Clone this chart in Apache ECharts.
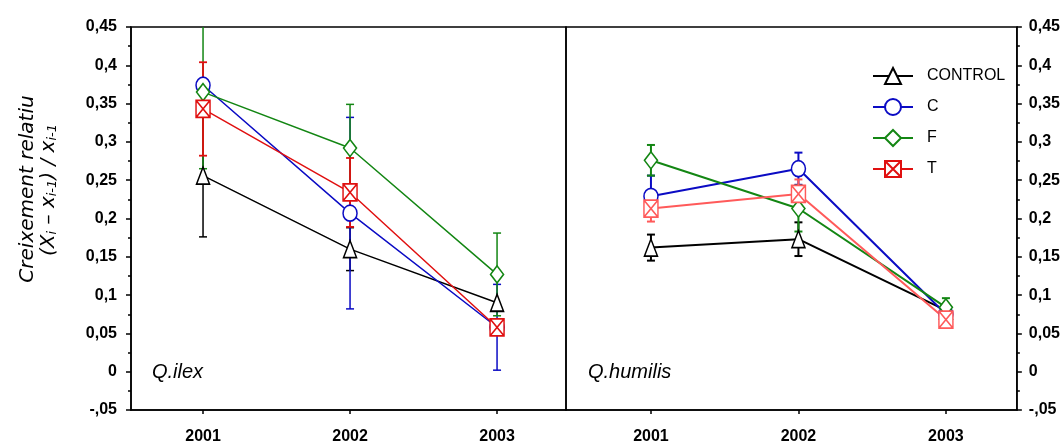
<!DOCTYPE html>
<html>
<head>
<meta charset="utf-8">
<title>Creixement relatiu</title>
<script src="https://cdn.jsdelivr.net/npm/echarts@6/dist/echarts.min.js"></script>
<style>
  html, body { margin: 0; padding: 0; background: #fff; }
  #chart { width: 1063px; height: 445px; }
</style>
</head>
<body>
<div id="chart"></div>
<script>
// Years sampled in each panel
const years = [2001, 2002, 2003];

// Q. ilex — mean relative growth and error half-width per treatment
const ilexControl = [0.256, 0.160, 0.090];
const ilexControlErr = [0.080, 0.028, 0.0];
const ilexC = [0.374, 0.207, 0.058];
const ilexCErr = [0.0, 0.125, 0.056];
const ilexF = [0.365, 0.292, 0.127];
const ilexFErr = [0.100, 0.057, 0.054];
const ilexT = [0.343, 0.234, 0.058];
const ilexTErr = [0.061, 0.045, 0.010];

// Q. humilis — mean relative growth and error half-width per treatment
const humControl = [0.162, 0.173, 0.080];
const humControlErr = [0.017, 0.022, 0.0];
const humC = [0.229, 0.265, 0.075];
const humCErr = [0.027, 0.021, 0.0];
const humF = [0.276, 0.213, 0.084];
const humFErr = [0.020, 0.030, 0.012];
const humT = [0.213, 0.232, 0.068];
const humTErr = [0.017, 0.019, 0.0];

const treatments = ['CONTROL', 'C', 'F', 'T'];

const COL = { CONTROL: '#000000', C: '#0b0bc4', F: '#138613', T: '#e01010', T2: '#ff5a5a' };
const SQUARE_X = 'path://M0,0H12V14H0Z M0,0L12,14 M12,0L0,14';
const SYMBOLS = {
  CONTROL: { symbol: 'triangle', size: [13, 17] },
  C: { symbol: 'circle', size: [14, 16] },
  F: { symbol: 'diamond', size: [13, 17] },
  T: { symbol: SQUARE_X, size: [14, 17] }
};

function fmtTick(v) {
  const r = Math.round(v * 100) / 100;
  if (r === 0) return '0';
  const s = String(Math.abs(r)).replace('.', ',');
  return r < 0 ? '-' + s.replace(/^0/, '') : s;
}

function pairs(vals) { return years.map((y, i) => [y, vals[i]]); }

function lineSeries(name, idx, vals, color, width) {
  const sym = SYMBOLS[name];
  return {
    type: 'line', name: name,
    xAxisIndex: idx, yAxisIndex: idx,
    data: pairs(vals),
    symbol: sym.symbol, symbolSize: sym.size,
    showAllSymbol: true,
    lineStyle: { color: color, width: width },
    itemStyle: { color: '#ffffff', borderColor: color, borderWidth: 1.6 },
    emphasis: { disabled: true },
    z: 3, silent: true, animation: false
  };
}

function errSeries(name, idx, vals, errs, color, width) {
  return {
    type: 'custom', name: name + ' err',
    xAxisIndex: idx, yAxisIndex: idx,
    data: years.map((y, i) => [y, vals[i], errs[i]]),
    encode: { x: 0, y: 1 },
    z: 2, silent: true, animation: false,
    renderItem: function (params, api) {
      const x = api.value(0), v = api.value(1), e = api.value(2);
      if (!e) return;
      const cs = params.coordSys;
      const top = api.coord([x, v + e]);
      const bot = api.coord([x, v - e]);
      const yMin = cs.y, yMax = cs.y + cs.height;
      const t = Math.max(top[1], yMin), b = Math.min(bot[1], yMax);
      const st = { stroke: color, lineWidth: width };
      const half = 4;
      const kids = [{ type: 'line', shape: { x1: top[0], y1: t, x2: top[0], y2: b }, style: st }];
      if (top[1] >= yMin) kids.push({ type: 'line', shape: { x1: top[0] - half, y1: top[1], x2: top[0] + half, y2: top[1] }, style: st });
      if (bot[1] <= yMax) kids.push({ type: 'line', shape: { x1: bot[0] - half, y1: bot[1], x2: bot[0] + half, y2: bot[1] }, style: st });
      return { type: 'group', children: kids };
    }
  };
}

const axisLineStyle = { color: '#000', width: 1.5 };
const tickFont = { fontFamily: 'Liberation Sans, Arial, sans-serif', fontWeight: 'bold', fontSize: 16, color: '#000' };

function xAxis(idx, min, max) {
  return {
    type: 'value', gridIndex: idx, min: min, max: max,
    axisLine: { show: true, onZero: false, lineStyle: axisLineStyle },
    axisTick: { show: true, customValues: years, length: 4, lineStyle: { color: '#000', width: 1.5 } },
    axisLabel: Object.assign({ customValues: years, formatter: v => String(v), margin: 19 }, tickFont),
    splitLine: { show: false }
  };
}

function yAxis(idx, pos, margin) {
  return {
    type: 'value', gridIndex: idx, position: pos,
    min: -0.05, max: 0.45, interval: 0.05,
    axisLine: { show: true, onZero: false, lineStyle: axisLineStyle },
    axisTick: { show: true, length: 5, lineStyle: { color: '#000', width: 1.5 } },
    minorTick: { show: true, splitNumber: 2, length: 3, lineStyle: { color: '#000', width: 1.5 } },
    axisLabel: Object.assign({ formatter: fmtTick, margin: margin }, tickFont),
    splitLine: { show: false },
    minorSplitLine: { show: false }
  };
}

const series = [
  errSeries('CONTROL', 0, ilexControl, ilexControlErr, COL.CONTROL, 1.5),
  errSeries('C', 0, ilexC, ilexCErr, COL.C, 1.5),
  errSeries('F', 0, ilexF, ilexFErr, COL.F, 1.5),
  errSeries('T', 0, ilexT, ilexTErr, COL.T, 1.8),
  errSeries('CONTROL', 1, humControl, humControlErr, COL.CONTROL, 2),
  errSeries('C', 1, humC, humCErr, COL.C, 2),
  errSeries('F', 1, humF, humFErr, COL.F, 2),
  errSeries('T', 1, humT, humTErr, COL.T2, 2),
  lineSeries('CONTROL', 0, ilexControl, COL.CONTROL, 1.5),
  lineSeries('C', 0, ilexC, COL.C, 1.5),
  lineSeries('F', 0, ilexF, COL.F, 1.5),
  lineSeries('T', 0, ilexT, COL.T, 1.5),
  lineSeries('CONTROL', 1, humControl, COL.CONTROL, 2),
  lineSeries('C', 1, humC, COL.C, 2),
  lineSeries('F', 1, humF, COL.F, 2),
  lineSeries('T', 1, humT, COL.T2, 2)
];

const italicTitle = { fontFamily: 'DejaVu Sans, Verdana, sans-serif', fontStyle: 'italic', fontSize: 20, fill: '#000' };

const chart = echarts.init(document.getElementById('chart'), null, { renderer: 'canvas' });
chart.setOption({
  backgroundColor: '#ffffff',
  animation: false,
  grid: [
    { left: 131, top: 27, width: 435, height: 384, show: true, borderColor: '#000', borderWidth: 1.5, backgroundColor: 'transparent' },
    { left: 566, top: 27, width: 451, height: 384, show: true, borderColor: '#000', borderWidth: 1.5, backgroundColor: 'transparent' }
  ],
  xAxis: [xAxis(0, 2000.51, 2003.469), xAxis(1, 2000.424, 2003.481)],
  yAxis: [yAxis(0, 'left', 14), yAxis(1, 'right', 12)],
  legend: {
    data: treatments,
    orient: 'vertical',
    left: 867, top: 62,
    itemWidth: 40, itemHeight: 20, itemGap: 13,
    selectedMode: false,
    textStyle: { fontFamily: 'Liberation Sans, Arial, sans-serif', fontSize: 16, color: '#000', padding: [0, 0, 0, 9] }
  },
  graphic: [
    {
      type: 'text', x: 28, y: 189, rotation: Math.PI / 2,
      style: Object.assign({ text: 'Creixement relatiu', align: 'center', verticalAlign: 'middle' }, italicTitle)
    },
    {
      type: 'text', x: 49, y: 190, rotation: Math.PI / 2,
      style: Object.assign({
        text: '(X{s|i} – x{s|i-1}) / x{s|i-1}', align: 'center', verticalAlign: 'middle',
        rich: { s: { fontFamily: 'DejaVu Sans, Verdana, sans-serif', fontStyle: 'italic', fontSize: 13, verticalAlign: 'bottom', lineHeight: 12, padding: [10, 0, 0, 0] } }
      }, italicTitle)
    },
    {
      type: 'text', x: 152, y: 372,
      style: { text: 'Q.ilex', fontFamily: 'Liberation Sans, Arial, sans-serif', fontStyle: 'italic', fontSize: 20, fill: '#000', verticalAlign: 'middle' }
    },
    {
      type: 'text', x: 588, y: 372,
      style: { text: 'Q.humilis', fontFamily: 'Liberation Sans, Arial, sans-serif', fontStyle: 'italic', fontSize: 20, fill: '#000', verticalAlign: 'middle' }
    }
  ],
  series: series
});
</script>
</body>
</html>
